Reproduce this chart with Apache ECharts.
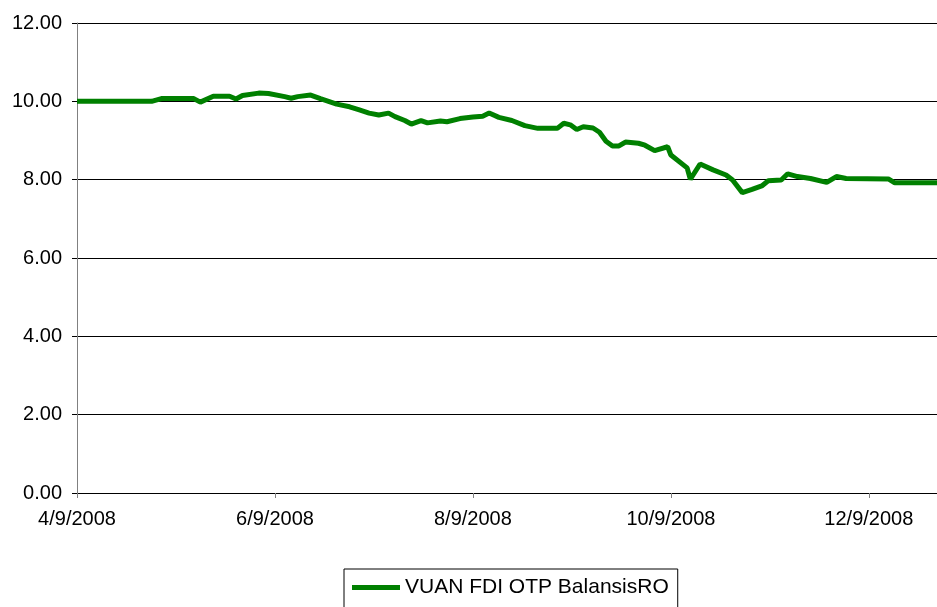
<!DOCTYPE html>
<html>
<head>
<meta charset="utf-8">
<script src="https://cdn.jsdelivr.net/npm/echarts@6/dist/echarts.min.js"></script>
<style>
html, body { margin: 0; padding: 0; background: #fff; }
#chart { width: 937px; height: 607px; }
</style>
</head>
<body>
<div id="chart"></div>
<script>
var seriesName = 'VUAN FDI OTP BalansisRO';
var startDate = '2008-04-09';
var endDate = '2008-12-30';
var dates = [
    '2008-04-09', '2008-05-02', '2008-05-05', '2008-05-15', '2008-05-17', '2008-05-21',
    '2008-05-26', '2008-05-28', '2008-05-30', '2008-06-04', '2008-06-07', '2008-06-12',
    '2008-06-14', '2008-06-16', '2008-06-20', '2008-06-23', '2008-06-28', '2008-07-02',
    '2008-07-05', '2008-07-08', '2008-07-11', '2008-07-14', '2008-07-16', '2008-07-19',
    '2008-07-21', '2008-07-24', '2008-07-26', '2008-07-30', '2008-08-01', '2008-08-05',
    '2008-08-09', '2008-08-12', '2008-08-14', '2008-08-17', '2008-08-21', '2008-08-25',
    '2008-08-29', '2008-09-04', '2008-09-06', '2008-09-08', '2008-09-10', '2008-09-12',
    '2008-09-15', '2008-09-17', '2008-09-19', '2008-09-21', '2008-09-23', '2008-09-25',
    '2008-09-29', '2008-10-01', '2008-10-04', '2008-10-08', '2008-10-09', '2008-10-14',
    '2008-10-15', '2008-10-18', '2008-10-22', '2008-10-26', '2008-10-28', '2008-10-31',
    '2008-11-03', '2008-11-06', '2008-11-08', '2008-11-12', '2008-11-14', '2008-11-17',
    '2008-11-21', '2008-11-26', '2008-11-29', '2008-12-02', '2008-12-15', '2008-12-17',
    '2008-12-30'
];
var values = [
    10.00, 10.00, 10.07, 10.07, 9.98, 10.13,
    10.13, 10.06, 10.15, 10.21, 10.20, 10.12,
    10.08, 10.12, 10.16, 10.07, 9.93, 9.86,
    9.78, 9.70, 9.65, 9.70, 9.61, 9.51,
    9.42, 9.51, 9.45, 9.50, 9.48, 9.56,
    9.60, 9.62, 9.70, 9.59, 9.51, 9.38,
    9.31, 9.31, 9.44, 9.40, 9.28, 9.35,
    9.32, 9.21, 8.98, 8.86, 8.86, 8.96,
    8.93, 8.88, 8.74, 8.84, 8.63, 8.30,
    8.01, 8.40, 8.25, 8.12, 7.99, 7.67,
    7.75, 7.84, 7.97, 7.99, 8.15, 8.08,
    8.03, 7.93, 8.08, 8.03, 8.02, 7.92,
    7.92
];

var DAY = 86400000;
var t0 = Date.parse(startDate + 'T00:00:00Z');
function dayOf(s) { return Math.round((Date.parse(s + 'T00:00:00Z') - t0) / DAY); }
function fmtDay(d) {
    var dt = new Date(t0 + d * DAY);
    return (dt.getUTCMonth() + 1) + '/' + dt.getUTCDate() + '/' + dt.getUTCFullYear();
}

var points = dates.map(function (d, i) { return [dayOf(d), values[i]]; });
var font = 'Liberation Sans, Arial, sans-serif';

echarts.init(document.getElementById('chart')).setOption({
    animation: false,
    grid: {
        left: 77,
        right: 0,
        top: 23,
        bottom: 114
    },
    legend: {
        data: [seriesName],
        left: 344,
        top: 569,
        padding: [8, 9, 12, 8],
        borderColor: '#000',
        borderWidth: 1,
        borderRadius: 0,
        icon: 'rect',
        itemWidth: 48,
        itemHeight: 5,
        textStyle: { color: '#000', fontSize: 21, fontFamily: font }
    },
    xAxis: {
        type: 'value',
        min: 0,
        max: dayOf(endDate),
        interval: 61,
        axisLine: { lineStyle: { color: '#000', width: 1 } },
        axisTick: { show: true, length: 5, lineStyle: { color: '#808080' } },
        splitLine: { show: false },
        axisLabel: {
            color: '#000',
            fontSize: 20,
            fontFamily: font,
            margin: 16,
            showMaxLabel: false,
            formatter: fmtDay
        }
    },
    yAxis: {
        type: 'value',
        min: 0,
        max: 12,
        interval: 2,
        axisLine: { show: true, lineStyle: { color: '#808080', width: 1 } },
        axisTick: { show: true, length: 5, lineStyle: { color: '#000' } },
        splitLine: { show: true, lineStyle: { color: '#000', width: 1 } },
        axisLabel: {
            color: '#000',
            fontSize: 20,
            fontFamily: font,
            margin: 15,
            formatter: function (v) { return v.toFixed(2); }
        }
    },
    series: [{
        name: seriesName,
        type: 'line',
        data: points,
        showSymbol: false,
        lineStyle: { color: '#008000', width: 5 },
        itemStyle: { color: '#008000' }
    }]
});
</script>
</body>
</html>
